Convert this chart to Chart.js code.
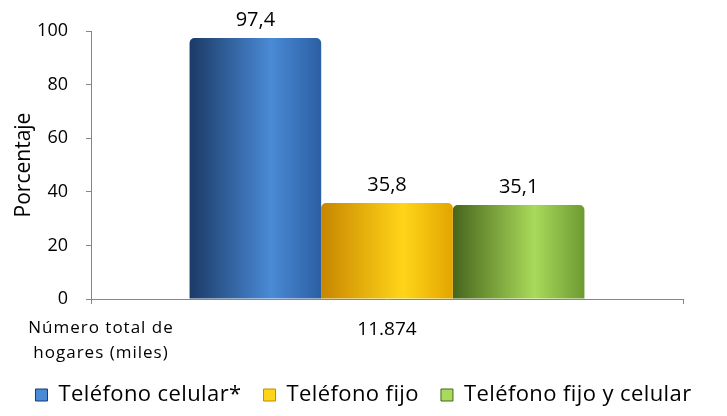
<!DOCTYPE html>
<html>
<head>
<meta charset="utf-8">
<script src="https://cdn.jsdelivr.net/npm/chart.js@4"></script>
<style>
  html, body { margin: 0; padding: 0; background: #fff; }
  #wrap { width: 727px; height: 416px; }
</style>
</head>
<body>
<div id="wrap"><canvas id="chart"></canvas></div>
<script>
// Data
const categories = ['11.874'];
const seriesNames = ['Teléfono celular*', 'Teléfono fijo', 'Teléfono fijo y celular'];
const celular = [97.4];
const fijo = [35.8];
const fijoCelular = [35.1];
const yTicks = [0, 20, 40, 60, 80, 100];
const rowLabel = ['Número total de', 'hogares (miles)'];

const FONT = "'Open Sans', 'Liberation Sans', sans-serif";

// left edge / highlight / right edge of each cylinder-like bar
const shades = [
    ['#1b3a66', '#4a8ad6', '#2c5fa3'],
    ['#c78600', '#ffd519', '#e3a500'],
    ['#46651c', '#a9da5a', '#6c9a32']
];

// paint each bar with a horizontal gradient once its geometry is known
const barShading = {
    id: 'barShading',
    beforeDatasetsDraw(chart) {
        const c = chart.ctx;
        chart.data.datasets.forEach((ds, i) => {
            chart.getDatasetMeta(i).data.forEach(el => {
                const left = el.x - el.width / 2;
                const g = c.createLinearGradient(left, 0, left + el.width, 0);
                g.addColorStop(0, shades[i][0]);
                g.addColorStop(0.62, shades[i][1]);
                g.addColorStop(1, shades[i][2]);
                el.options.backgroundColor = g;
            });
        });
    }
};

// the legend text in the original is spread wide, so space its letters a bit
const legendSpacing = {
    id: 'legendSpacing',
    afterInit(chart) {
        const lg = chart.legend;
        ['fit', 'draw'].forEach(m => {
            const orig = lg[m].bind(lg);
            lg[m] = function () {
                const c = chart.ctx;
                const prev = c.letterSpacing;
                c.letterSpacing = '0.4px';
                orig();
                c.letterSpacing = prev;
            };
        });
    }
};

// value labels above bars, with decimal comma
const valueLabels = {
    id: 'valueLabels',
    afterDatasetsDraw(chart) {
        const c = chart.ctx;
        c.save();
        c.font = '20px ' + FONT;
        c.fillStyle = '#000';
        c.textAlign = 'center';
        c.textBaseline = 'bottom';
        chart.data.datasets.forEach((ds, i) => {
            chart.getDatasetMeta(i).data.forEach((el, j) => {
                c.fillText(ds.data[j].toFixed(1).replace('.', ','), el.x, el.y - 8);
            });
        });
        c.restore();
    }
};

// the row caption left of the category label
const rowCaption = {
    id: 'rowCaption',
    afterDraw(chart) {
        const c = chart.ctx;
        c.save();
        c.font = '17px ' + FONT;
        c.letterSpacing = '1px';
        c.fillStyle = '#000';
        c.textAlign = 'center';
        c.textBaseline = 'middle';
        rowLabel.forEach((t, k) => c.fillText(t, 101, 328 + k * 25));
        c.restore();
    }
};

const seriesData = [celular, fijo, fijoCelular];

new Chart(document.getElementById('chart'), {
    type: 'bar',
    data: {
        labels: categories,
        datasets: seriesNames.map((name, i) => ({
            label: name,
            data: seriesData[i],
            backgroundColor: shades[i][1],
            borderWidth: 0,
            borderRadius: { topLeft: 5, topRight: 5 },
            borderSkipped: 'bottom',
            categoryPercentage: 0.667,
            barPercentage: 1
        }))
    },
    options: {
        responsive: true,
        maintainAspectRatio: false,
        animation: false,
        layout: { padding: { top: 31, right: 0, bottom: 0, left: 0 } },
        plugins: {
            tooltip: { enabled: false },
            legend: {
                position: 'bottom',
                labels: {
                    font: { family: FONT, size: 22 },
                    color: '#000',
                    boxWidth: 12,
                    boxHeight: 12,
                    padding: 22,
                    generateLabels(chart) {
                        return seriesNames.map((n, i) => ({
                            text: n,
                            fillStyle: shades[i][1],
                            strokeStyle: shades[i][0],
                            lineWidth: 1,
                            datasetIndex: i
                        }));
                    }
                }
            }
        },
        scales: {
            x: {
                afterFit(scale) { scale.height = 63; },
                grid: { drawOnChartArea: false, drawTicks: true, tickLength: 5, color: '#868686', offset: true },
                border: { color: '#868686', width: 1 },
                ticks: { color: '#000', font: { family: FONT, size: 19 }, padding: 14 }
            },
            y: {
                min: 0,
                max: 100,
                afterBuildTicks(scale) { scale.ticks = yTicks.map(v => ({ value: v })); },
                afterFit(scale) { scale.width = 91; },
                grid: { drawOnChartArea: false, drawTicks: true, tickLength: 5, color: '#868686' },
                border: { color: '#868686', width: 1 },
                ticks: { color: '#000', font: { family: FONT, size: 18 }, padding: 18 },
                title: { display: true, text: 'Porcentaje', color: '#000', font: { family: FONT, size: 21 }, padding: { top: 11, bottom: 0 } }
            },
            // empty right-hand strip so the plot ends short of the edge while the legend keeps full width
            yRight: {
                position: 'right',
                afterFit(scale) { scale.width = 44; },
                grid: { display: false },
                border: { display: false },
                ticks: { display: false }
            }
        }
    },
    plugins: [barShading, legendSpacing, valueLabels, rowCaption]
});
</script>
</body>
</html>
